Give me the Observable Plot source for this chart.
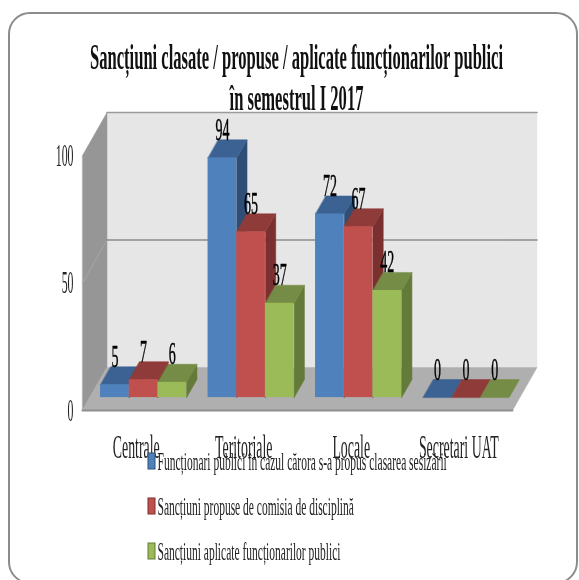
<!DOCTYPE html>
<html><head><meta charset="utf-8">
<script src="https://cdn.jsdelivr.net/npm/d3@7"></script>
<script src="https://cdn.jsdelivr.net/npm/@observablehq/plot@0.6"></script>
<style>
html,body{margin:0;padding:0;background:#fff;overflow:hidden;width:579px;height:580px}
#frame{position:absolute;left:8px;top:12px;width:570px;height:572px;border:2px solid #8c8c8c;border-radius:22px;box-sizing:border-box}
#chart{position:absolute;left:0;top:0;filter:blur(0.45px)}
</style></head><body>
<div id="frame"></div><div id="chart"></div>
<script>
const titleLines = ["Sancțiuni clasate / propuse / aplicate funcționarilor publici", "în semestrul I 2017"];
const categories = ["Centrale", "Teritoriale", "Locale", "Secretari UAT"];
const seriesNames = ["Funcționari publici în cazul cărora s-a propus clasarea sesizării",
  "Sancțiuni propuse de comisia de disciplină", "Sancțiuni aplicate funcționarilor publici"];
const clasate  = [5, 94, 72, 0];
const propuse  = [7, 65, 67, 0];
const aplicate = [6, 37, 42, 0];
const seriesValues = [clasate, propuse, aplicate];
const yTicks = [0, 50, 100];
const frontColors = ["#4f81bd", "#c0504d", "#9bbb59"];
const topColors   = ["#3b6292", "#8f3b39", "#748c45"];
const sideColors  = ["#2f4e75", "#7a302e", "#637a38"];

// layout: oblique projection expressed in scale units
const pxX = 107.5, pxY = 2.55, left = 82, base = 410;
const X = px => (px - left) / pxX, Y = px => (base - px) / pxY;
const depthX = 24.5 / pxX, depthY = 43 / pxY;
const d0 = 0.30, d1 = 0.72, barW = 28.7 / pxX;
const P = (x, y, d) => ({x: x + d * depthX, y: y + d * depthY});
const poly = (pts, fill, strokeWidth = 0.5) => Plot.line(pts, {x: "x", y: "y", fill, stroke: fill, strokeWidth, curve: "linear-closed"});
const seg = (pts, stroke, strokeWidth) => Plot.line(pts, {x: "x", y: "y", stroke, strokeWidth});

const marks = [
  poly([P(0,0,1), P(4,0,1), P(4,100,1), P(0,100,1)], "#e6e6e6"),
  poly([P(0,0,0), P(0,0,1), P(0,100,1), P(0,100,0)], "#969696"),
  poly([P(0,0,0), P(4,0,0), P(4,0,1), P(0,0,1)], "#afafaf"),
  seg([P(0,50,0), P(0,50,1)], "#a6a6a6", 1),
  seg([P(0,50,1), P(4,50,1)], "#8c8c8c", 1.6),
  seg([P(0,100,1), P(4,100,1)], "#9a9a9a", 1.6),
  seg([P(0,0,0), P(4,0,0)], "#8f8f8f", 2)
];
categories.forEach((c, i) => {
  seriesValues.forEach((vals, s) => {
    const v = vals[i];
    const x0 = i + 0.5 + d0 * depthX - 1.5 * barW + s * barW, x1 = x0 + barW;
    const off = d0 * depthX;
    const a = x0 - off, b = x1 - off;
    if (v > 0) marks.push(poly([P(b,0,d0), P(b,0,d1), P(b,v,d1), P(b,v,d0)], sideColors[s]));
    marks.push(poly([P(a,v,d0), P(b,v,d0), P(b,v,d1), P(a,v,d1)], topColors[s]));
    if (v > 0) marks.push(Plot.rect([{v}], {x1: () => x0, x2: () => x1, y1: () => d0 * depthY, y2: d => d.v + d0 * depthY, fill: frontColors[s]}));
  });
});
// value labels
const labelRows = categories.flatMap((c, i) => seriesValues.map((vals, s) => ({
  x: i + 0.5 + d0 * depthX - barW + s * barW, y: vals[i] + d1 * depthY, t: String(vals[i])
})));
marks.push(Plot.text(labelRows, {x: "x", y: "y", text: "t", lineAnchor: "bottom", fontSize: 31, fill: "#000", stroke: "#000", strokeWidth: 0.5}));

marks.push(Plot.axisY({ticks: yTicks, tickSize: 0, tickPadding: 9, label: null, fontSize: 32, fill: "#222"}));
marks.push(Plot.axisX({ticks: categories.map((c, i) => i + 0.5), tickFormat: d => categories[Math.floor(d)], tickSize: 0, tickPadding: 24, label: null, fontSize: 33, fill: "#222"}));

// title and legend
marks.push(Plot.text([titleLines[0]], {x: () => X(296), y: () => Y(57), text: d => d, lineAnchor: "middle", fontSize: 36, fontWeight: "bold", fill: "#111"}));
marks.push(Plot.text([titleLines[1]], {x: () => X(296), y: () => Y(98), text: d => d, lineAnchor: "middle", fontSize: 36, fontWeight: "bold", fill: "#111"}));
const legendY = [461, 506, 551];
seriesNames.forEach((n, s) => {
  marks.push(Plot.rect([n], {x1: () => X(148), x2: () => X(155), y1: () => Y(legendY[s] - 8), y2: () => Y(legendY[s] + 8), fill: frontColors[s], stroke: sideColors[s], strokeWidth: 1}));
  marks.push(Plot.text([n], {x: () => X(157), y: () => Y(legendY[s]), text: d => d, textAnchor: "start", lineAnchor: "middle", fontSize: 25, fill: "#222"}));
});

const chart = Plot.plot({
  width: 579, height: 580,
  marginLeft: left, marginRight: 579 - 512, marginTop: 155, marginBottom: 580 - 410,
  x: {domain: [0, 4]}, y: {domain: [0, 100]},
  style: {fontFamily: "'Liberation Serif', serif", background: "transparent", overflow: "visible"},
  marks
});
document.getElementById("chart").append(chart);
// reference is squeezed horizontally: condense each text kind to match
const squeeze = {"31px": 0.45, "32px": 0.37, "33px": 0.42, "36px": 0.46, "25px": 0.46};
chart.querySelectorAll("text").forEach(t => {
  const len = t.getComputedTextLength();
  const r = squeeze[getComputedStyle(t).fontSize] || 0.46;
  t.setAttribute("textLength", (len * r).toFixed(1));
  t.setAttribute("lengthAdjust", "spacingAndGlyphs");
});
</script></body></html>
